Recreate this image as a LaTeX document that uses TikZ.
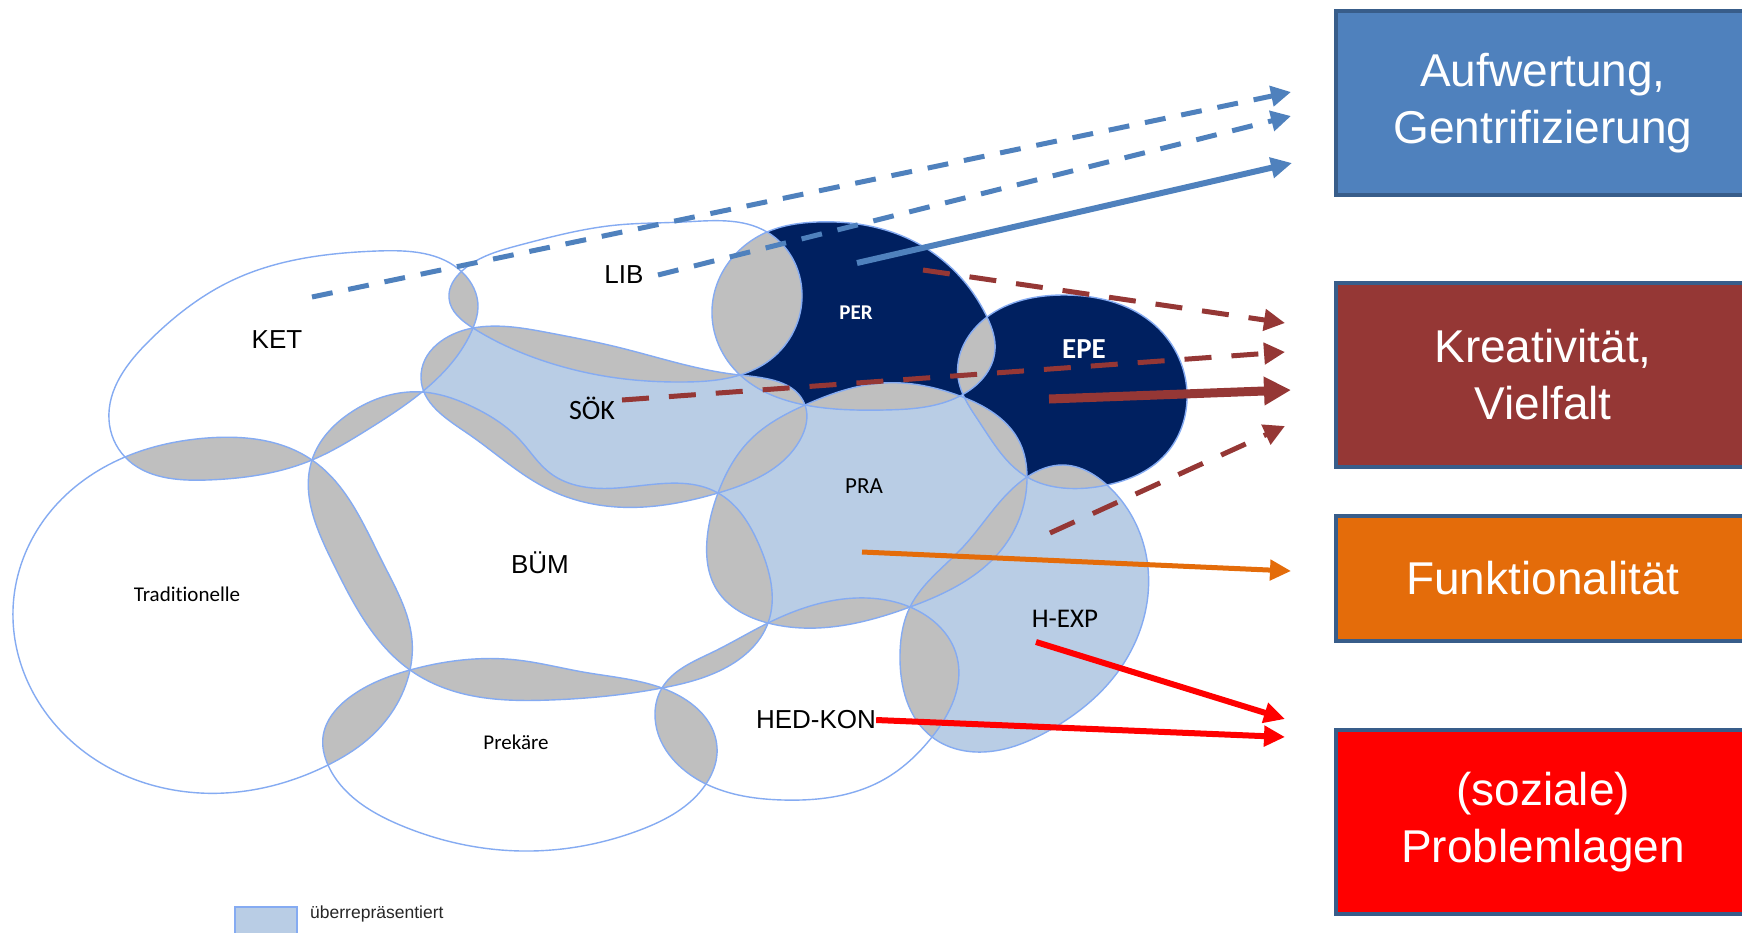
\documentclass[tikz,border=0pt]{standalone}
\usepackage{fontspec}
\setmainfont{Liberation Sans}
\newfontfamily\calibri[Ligatures=NoCommon]{Carlito}
\usetikzlibrary{arrows.meta, hobby}

\definecolor{milieuLine}{HTML}{85ABF2}
\definecolor{overRep}{HTML}{B9CDE5}
\definecolor{overlapGray}{HTML}{BFBFBF}
\definecolor{navyLeit}{HTML}{002060}
\definecolor{boxBlue}{HTML}{4F81BD}
\definecolor{boxBrown}{HTML}{953735}
\definecolor{boxOrange}{HTML}{E46C0A}
\definecolor{boxRed}{HTML}{FF0000}
\definecolor{boxBorder}{HTML}{385D8A}

% milieu outlines (pixel coordinates, y downwards), closed Hobby curves
\def\shKET{(109,420) .. (125,457) .. (207,480) .. (312,460) .. (367,430) .. (422,392) .. (473,328) .. (478,307) .. (463,273) .. (377,251) .. (233,280) .. (150,340)}
\def\shLIB{(449,298) .. (463,270) .. (520,245) .. (617,225) .. (683,222) .. (767,232) .. (802,293) .. (770,360) .. (740,375) .. (683,382) .. (617,378) .. (550,363) .. (473,328)}
\def\shPER{(712,310) .. (740,375) .. (805,405) .. (883,410) .. (960,396) .. (995,350) .. (987,317) .. (917,243) .. (817,222) .. (767,232)}
\def\shEPE{(958,377) .. (980,423) .. (1027,477) .. (1063,488) .. (1107,485) .. (1163,457) .. (1187,400) .. (1160,330) .. (1063,295) .. (987,317)}
\def\shSOK{(421,378) .. (473,328) .. (550,333) .. (617,347) .. (740,375) .. (805,405) .. (800,440) .. (718,493) .. (617,507) .. (550,490) .. (467,433)}
\def\shPRA{(805,405) .. (883,383) .. (960,396) .. (1020,443) .. (1027,477) .. (1005,545) .. (910,607) .. (817,628) .. (768,623) .. (717,590) .. (707,540) .. (718,493) .. (750,440)}
\def\shHEXP{(1027,477) .. (1063,465) .. (1107,485) .. (1147,560) .. (1117,673) .. (1050,730) .. (983,752) .. (932,737) .. (900,655) .. (910,607) .. (963,547)}
\def\shBUM{(312,460) .. (350,413) .. (422,392) .. (473,407) .. (520,440) .. (550,473) .. (617,488) .. (718,493) .. (760,547) .. (768,623) .. (727,667) .. (662,688) .. (550,700) .. (450,690) .. (410,670) .. (333,563)}
\def\shTRA{(13,610) .. (50,512) .. (125,457) .. (207,438) .. (312,460) .. (383,563) .. (412,640) .. (410,670) .. (367,740) .. (328,765) .. (200,793) .. (60,730)}
\def\shPRE{(410,670) .. (517,660) .. (583,672) .. (662,688) .. (717,747) .. (706,784) .. (640,830) .. (522,851) .. (400,825) .. (328,765) .. (323,737) .. (350,697)}
\def\shHED{(662,688) .. (713,652) .. (768,623) .. (867,598) .. (910,607) .. (957,657) .. (932,737) .. (883,780) .. (783,800) .. (706,784) .. (655,713)}

\def\milieuList{KET,LIB,PER,EPE,SOK,PRA,HEXP,BUM,TRA,PRE,HED}

\begin{document}
\begin{tikzpicture}[x=1pt, y=-1pt,
    milieuPath/.style={use Hobby shortcut, closed=true},
    milieu/.style={milieuPath, draw=milieuLine, line width=1.4pt},
    goalbox/.style={draw=boxBorder, line width=4pt, minimum width=414pt, inner sep=0pt, align=center, text=white, font=\fontsize{46}{57}\selectfont},
    bigname/.style={inner sep=0pt, font=\fontsize{26}{26}\selectfont},
    smallname/.style={inner sep=0pt, font=\calibri\fontsize{22}{22}\selectfont},
    leitname/.style={inner sep=0pt, text=white, font=\calibri\bfseries\fontsize{21}{21}\selectfont},
    blueDash/.style={draw=boxBlue, line width=5pt, dash pattern=on 21pt off 16pt, -{Triangle[length=20pt, width=20pt]}},
    brownDash/.style={draw=boxBrown, line width=5pt, dash pattern=on 27pt off 20pt, -{Triangle[length=21pt, width=21pt]}},
    solidArrow/.style={line width=5pt, -{Triangle[length=21pt, width=20pt]}}]

    \useasboundingbox (0,0) rectangle (1742,932);
    \fill[white] (0,0) rectangle (1742,932);

    % base colours
    \fill[milieuPath, overRep] \shSOK;
    \fill[milieuPath, overRep] \shPRA;
    \fill[milieuPath, overRep] \shHEXP;
    \fill[milieuPath, navyLeit] \shPER;
    \fill[milieuPath, navyLeit] \shEPE;

    % overlaps in gray
    \foreach \a in \milieuList {%
        \begin{scope}
            \expandafter\let\expandafter\clipShape\csname sh\a\endcsname
            \clip[milieuPath] \clipShape;
            \foreach \b in \milieuList {%
                \ifx\a\b\else
                    \expandafter\let\expandafter\otherShape\csname sh\b\endcsname
                    \fill[milieuPath, overlapGray] \otherShape;
                \fi
            }
        \end{scope}
    }

    % outlines
    \foreach \a in \milieuList {%
        \expandafter\let\expandafter\thisShape\csname sh\a\endcsname
        \draw[milieu] \thisShape;
    }

    % milieu names
    \node[bigname] (ket) at (277,340) {KET};
    \node[bigname] (lib) at (624,275) {LIB};
    \node[leitname] (per) at (856,313) {PER};
    \node[leitname, font=\calibri\bfseries\fontsize{29}{29}\selectfont] (epe) at (1084,349) {EPE};
    \node[smallname, font=\calibri\fontsize{28}{28}\selectfont] (sok) at (592,408) {SÖK};
    \node[smallname, font=\calibri\fontsize{23}{23}\selectfont] (pra) at (864,486) {PRA};
    \node[bigname] (bum) at (540,563) {BÜM};
    \node[smallname, font=\calibri\fontsize{21}{21}\selectfont] (tra) at (187,594) {Traditionelle};
    \node[smallname, font=\calibri\fontsize{21}{21}\selectfont] (pre) at (516,742) {Prekäre};
    \node[bigname] (hedkon) at (816,720) {HED-KON};
    \node[smallname, font=\calibri\fontsize{27}{27}\selectfont] (hexp) at (1065,619) {H-EXP};

    % goals
    \node[goalbox, fill=boxBlue, minimum height=184pt] (aufwertung) at (1543,103) {Aufwertung,\\Gentrifizierung};
    \node[goalbox, fill=boxBrown, minimum height=184pt] (kreativ) at (1543,375) {Kreativität,\\Vielfalt};
    \node[goalbox, fill=boxOrange, minimum height=125pt] (funktion) at (1543,578) {Funktionalität};
    \node[goalbox, fill=boxRed, minimum height=184pt] (problem) at (1543,822) {(soziale)\\Problemlagen};

    % arrow ends
    \coordinate (ketFrom) at (312,297);
    \coordinate (libFrom) at (658,275);
    \coordinate (perFromA) at (857,263);
    \coordinate (perFromB) at (923,270);
    \coordinate (sokFrom) at (622,400);
    \coordinate (epeFrom) at (1049,399);
    \coordinate (hexpFromA) at (1050,533);
    \coordinate (praFrom) at (862,552);
    \coordinate (hexpFromB) at (1036,642);
    \coordinate (aufA) at (1291,92);
    \coordinate (aufB) at (1291,116);
    \coordinate (aufC) at (1292,163);
    \coordinate (kreA) at (1285,323);
    \coordinate (kreB) at (1285,352);
    \coordinate (kreC) at (1291,390);
    \coordinate (kreD) at (1285,426);
    \coordinate (funA) at (1291,571);
    \coordinate (proA) at (1285,719);
    \coordinate (proB) at (1285,737);

    \draw[blueDash] (ketFrom) -- (aufA);
    \draw[blueDash] (libFrom) -- (aufB);
    \draw[solidArrow, draw=boxBlue, line width=6pt] (perFromA) -- (aufC);
    \draw[brownDash] (perFromB) -- (kreA);
    \draw[brownDash] (sokFrom) -- (kreB);
    \draw[draw=boxBrown, line width=9pt, -{Triangle[length=27pt, width=27pt]}] (epeFrom) -- (kreC);
    \draw[brownDash] (hexpFromA) -- (kreD);
    \draw[solidArrow, draw=boxOrange] (praFrom) -- (funA);
    \draw[solidArrow, draw=boxRed, line width=6pt] (hexpFromB) -- (proA);
    \draw[solidArrow, draw=boxRed, line width=6pt] (hedkon.east) -- (proB);

    % legend
    \node[draw=milieuLine, line width=1.5pt, fill=overRep, minimum width=62pt, minimum height=30pt, inner sep=0pt] (legendbox) at (266,922) {};
    \node[anchor=base west, inner sep=0pt, font=\fontsize{17.5}{17.5}\selectfont, text=black!85] (legendtext) at (310,918) {überrepräsentiert};

\end{tikzpicture}
\end{document}
